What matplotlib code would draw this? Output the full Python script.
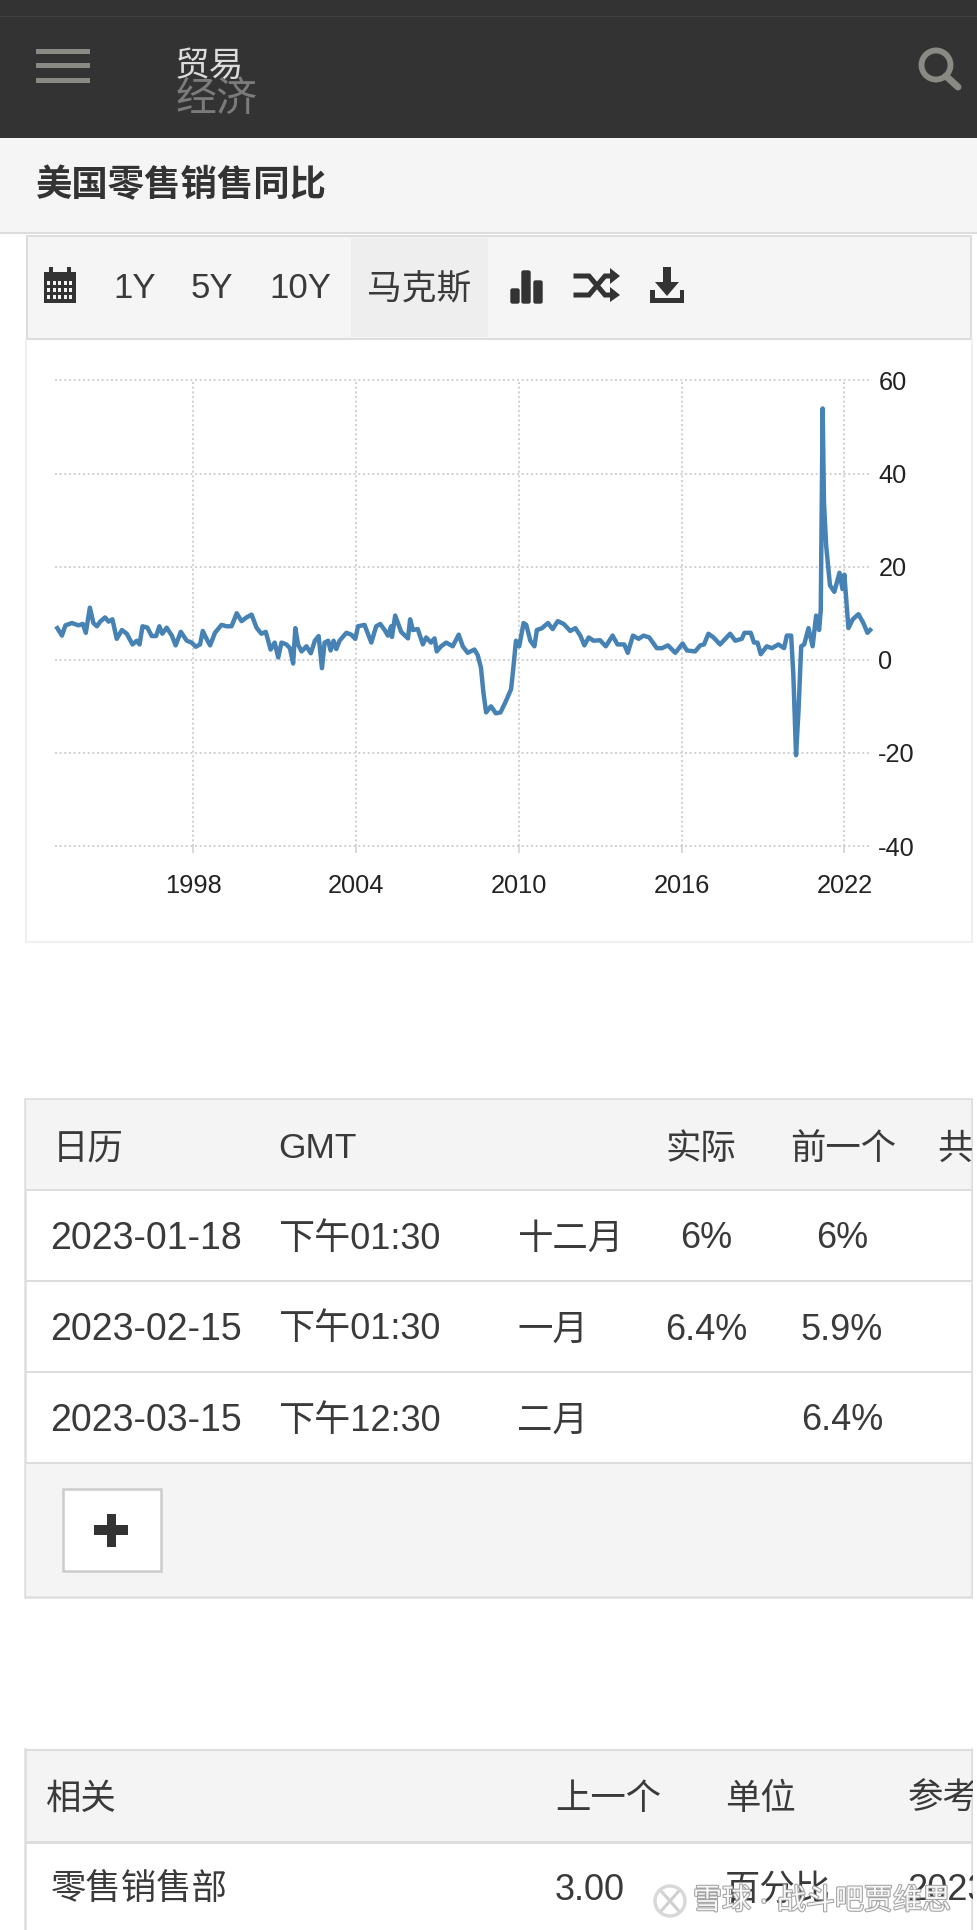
import matplotlib
matplotlib.use("Agg")
import matplotlib.pyplot as plt
from matplotlib.patches import Rectangle, Circle, Polygon, FancyBboxPatch
import matplotlib.patheffects as pe

plt.rcParams['font.family'] = ['Liberation Sans', 'Noto Sans CJK SC', 'DejaVu Sans']

# ---------- data ----------
years = [1993.0,1993.17,1993.3,1993.54,1993.78,1993.94,1994.05,1994.2,1994.33,1994.46,1994.58,1994.76,1994.89,
 1995.03,1995.19,1995.38,1995.56,1995.77,1995.93,1996.03,1996.14,1996.32,1996.48,1996.64,1996.76,1996.87,
 1997.03,1997.22,1997.36,1997.55,1997.77,1997.95,1998.1,1998.26,1998.36,1998.5,1998.63,1998.81,
 1999.05,1999.24,1999.42,1999.61,1999.79,1999.97,2000.16,2000.34,2000.52,2000.68,2000.86,
 2001.01,2001.14,2001.26,2001.44,2001.57,2001.69,2001.77,2001.87,2002.0,2002.18,2002.34,2002.49,2002.63,2002.75,2002.85,2002.98,
 2003.07,2003.18,2003.28,2003.4,2003.65,2003.83,2003.98,2004.08,2004.32,2004.57,2004.75,2004.9,
 2005.06,2005.18,2005.3,2005.33,2005.45,2005.67,2005.92,2006.0,2006.1,2006.28,2006.47,2006.59,2006.77,2006.9,2006.98,
 2007.14,2007.33,2007.57,2007.79,2007.94,2008.12,2008.37,2008.49,2008.61,2008.7,2008.8,2008.98,2009.16,
 2009.33,2009.52,2009.63,2009.72,2009.79,2009.9,2010.02,2010.18,2010.28,2010.43,2010.58,2010.67,2010.86,
 2011.08,2011.25,2011.44,2011.66,2011.9,2012.09,2012.27,2012.42,2012.58,2012.76,2013.0,2013.21,2013.46,2013.64,2013.89,
 2014.02,2014.21,2014.42,2014.6,2014.81,2015.09,2015.28,2015.5,2015.77,2016.04,2016.2,2016.5,2016.69,2016.83,2016.99,
 2017.18,2017.42,2017.79,2017.98,2018.22,2018.32,2018.55,2018.67,2018.8,2018.92,2019.14,2019.33,2019.57,2019.78,2019.88,
 2020.04,2020.12,2020.22,2020.31,2020.41,2020.52,2020.68,2020.83,2020.96,2021.07,2021.13,2021.2,2021.25,2021.33,2021.47,2021.63,2021.82,2021.93,
 2022.0,2022.15,2022.31,2022.52,2022.7,2022.85,2022.95]
retail_yoy = [6.8,5.2,7.4,7.9,7.4,7.7,5.8,11.2,7.9,7.2,8.2,9.1,8.2,
 8.7,4.5,6.4,5.6,3.3,4.1,3.3,7.2,6.9,5.1,5.1,7.2,5.6,
 6.9,5.2,3.1,6.0,4.1,3.7,2.8,3.3,6.2,4.5,3.1,5.8,
 7.5,7.2,7.2,10.0,8.3,9.1,9.7,6.9,5.6,6.0,2.2,
 3.7,0.5,3.7,3.3,2.5,-0.8,6.8,3.3,1.8,2.9,1.4,4.1,5.1,-1.8,3.7,4.1,
 2.0,4.1,2.3,4.1,5.8,5.4,4.5,7.2,7.5,3.7,7.2,7.7,
 6.4,5.2,7.2,4.9,9.5,6.0,4.6,8.7,6.4,6.6,3.3,4.8,3.7,4.6,1.8,
 2.9,3.7,2.9,5.4,2.9,1.5,2.2,1.0,-1.7,-7.0,-11.3,-10.0,-11.5,
 -11.3,-9.0,-7.5,-6.3,-2.5,4.1,2.9,7.9,7.5,4.1,2.9,6.4,6.8,
 7.9,6.6,8.3,7.7,6.2,6.8,5.2,3.1,4.8,4.1,4.2,2.9,5.2,3.3,3.3,
 1.5,5.2,4.5,5.2,4.8,2.5,2.5,3.1,1.5,3.5,2.0,1.8,3.1,3.3,5.6,
 4.8,3.3,5.6,4.1,4.5,5.8,5.8,3.7,3.7,1.2,2.9,2.5,3.3,2.5,5.2,
 5.2,-3.2,-20.5,-11.0,2.9,3.3,6.8,2.9,9.5,6.4,10.6,54.0,33.7,24.5,16.0,14.6,18.7,15.2,
 18.3,6.8,8.7,9.8,7.9,5.8,6.4]

x_ticks = [1998, 2004, 2010, 2016, 2022]
y_ticks = [60, 40, 20, 0, -20, -40]

toolbar_labels = ['1Y', '5Y', '10Y', '马克斯']
calendar_header = ['日历', 'GMT', '实际', '前一个', '共']
calendar_dates = ['2023-01-18', '2023-02-15', '2023-03-15']
calendar_times = ['下午01:30', '下午01:30', '下午12:30']
calendar_months = ['十二月', '一月', '二月']
calendar_actual = ['6%', '6.4%', '']
calendar_previous = ['6%', '5.9%', '6.4%']
related_header = ['相关', '上一个', '单位', '参考']
related_row = ['零售销售部', '3.00', '百分比', '2023']

W, H = 978, 1930
fig = plt.figure(figsize=(W/100, H/100), dpi=100, facecolor='white')
ui = fig.add_axes([0, 0, 1, 1])
ui.set_xlim(0, W); ui.set_ylim(H, 0); ui.axis('off')

DARK = '#333333'; BORDER = '#dddddd'; PANEL = '#f4f4f4'; ICON = '#8a8a84'

def rect(x0, y0, x1, y1, fc, ec='none', lw=0, z=1):
    ui.add_patch(Rectangle((x0, y0), x1-x0, y1-y0, facecolor=fc, edgecolor=ec, linewidth=lw, zorder=z))

def txt(x, y, s, size=25.5, color='#3a3a3a', ha='left', weight='normal', z=5):
    return ui.text(x, y, s, fontsize=size, color=color, ha=ha, va='center', fontweight=weight, zorder=z)

# header
rect(0, 0, W, 138, DARK)
rect(0, 15.5, W, 16.5, '#3d3f42', z=2)
for y0, y1 in [(49, 53.5), (63, 68), (78, 82.5)]:
    rect(36, y0, 90, y1, ICON, z=2)
txt(175, 66, '贸易', size=25, color='#dcdcdc', z=6)
txt(176, 100, '经济', size=29.5, color='#7b7b7b', z=5)
ui.add_patch(Circle((936, 65), 14.5, facecolor='none', edgecolor=ICON, linewidth=4.2, zorder=3))
ui.plot([946, 958], [76, 87], color=ICON, lw=5, solid_capstyle='round', zorder=3)

# title bar
rect(0, 138, W, 232, '#f5f5f5')
rect(0, 232, W, 234, BORDER)
txt(36, 187, '美国零售销售同比', size=26.2, color=DARK, weight='bold')

# toolbar
rect(27, 236, 971, 339, '#f5f5f5', ec=BORDER, lw=1.5)
rect(351, 238, 488, 337, '#eeeeee', z=2)
for cx, lab in zip([135, 212, 300, 419], toolbar_labels):
    txt(cx, 289, lab, size=25, ha='center')
# calendar icon
rect(44, 272, 76, 303, DARK, z=3)
rect(49, 267, 53, 274, DARK, z=3); rect(67, 267, 71, 274, DARK, z=3)
for r in range(3):
    for c in range(5):
        rect(47+c*5.6, 281+r*6.8, 50+c*5.6, 285+r*6.8, '#f5f5f5', z=4)
# bars icon
for x0, y0 in [(510, 288), (521, 270), (533, 280)]:
    ui.add_patch(FancyBboxPatch((x0+1, y0+1), 8, 302-y0, boxstyle='round,pad=0,rounding_size=1.5',
                                facecolor=DARK, edgecolor=DARK, linewidth=1, zorder=3))
# shuffle icon
ui.plot([576, 589, 605, 612], [276, 276, 295, 295], color=DARK, lw=3.6, zorder=3, solid_joinstyle='miter')
ui.plot([576, 589, 605, 612], [295, 295, 276, 276], color=DARK, lw=3.6, zorder=3, solid_joinstyle='miter')
ui.add_patch(Polygon([[610, 268], [620, 276], [610, 284]], fc=DARK, ec='none', zorder=3))
ui.add_patch(Polygon([[610, 287], [620, 295], [610, 302]], fc=DARK, ec='none', zorder=3))
# download icon
rect(663, 267, 671, 283, DARK, z=3)
ui.add_patch(Polygon([[655, 282], [679, 282], [667, 296]], fc=DARK, ec='none', zorder=3))
rect(650, 290, 654.5, 303, DARK, z=3); rect(679.5, 290, 684, 303, DARK, z=3); rect(650, 298, 684, 303, DARK, z=3)

# chart panel border
ui.plot([25.5, 25.5, 972, 972], [339, 941.5, 941.5, 339], color='#eeeeee', lw=1.2, zorder=1)

# chart
left, right, top, bottom = 55, 870, 380.5, 846
ax = fig.add_axes([left/W, 1-bottom/H, (right-left)/W, (bottom-top)/H])
ax.patch.set_alpha(0)
for s in ax.spines.values():
    s.set_visible(False)
ax.set_xlim(1992.915, 2022.945)
ax.set_ylim(-40, 60)
ax.set_xticks(x_ticks); ax.set_xticklabels([str(v) for v in x_ticks])
ax.yaxis.tick_right()
ax.set_yticks(y_ticks); ax.set_yticklabels([str(v) for v in y_ticks])
ax.tick_params(axis='x', length=5, width=1.2, color='#d4d4d4', pad=15.5, labelsize=18.3, labelcolor='#222222')
ax.tick_params(axis='y', length=0, pad=6, labelsize=18.3, labelcolor='#222222')
ax.grid(True, color='#d0d0d0', linestyle=(0, (1, 1.4)), linewidth=1.4, clip_on=False)
ax.set_axisbelow(True)
ax.plot(years, retail_yoy, color='#4682B4', lw=3.2, solid_joinstyle='round', clip_on=False, zorder=3)

# calendar table
rect(25, 1099, 972, 1597, 'white', ec=BORDER, lw=1.8)
rect(26, 1100, 971, 1190, PANEL, z=1.5)
rect(26, 1463, 971, 1596, PANEL, z=1.5)
for y in [1190, 1281, 1372, 1463]:
    rect(25, y-1, 972, y+1.2, BORDER, z=2)
for x, lab in zip([53, 278, 665, 790, 937], calendar_header):
    txt(x, 1149, lab)
for i, y in enumerate([1239, 1330, 1421]):
    txt(50, y, calendar_dates[i], size=27)
    txt(278, y, calendar_times[i], size=26)
    txt(517, y, calendar_months[i])
    txt(706, y, calendar_actual[i], size=26, ha='center')
    txt(842, y, calendar_previous[i], size=26, ha='center')
rect(63, 1489, 161, 1571, 'white', ec='#cccccc', lw=1.8, z=3)
rect(94, 1525, 128, 1535, DARK, z=4)
rect(106.5, 1514, 115.5, 1547, DARK, z=4)

# related table
ui.plot([25, 25], [1930, 1749], color=BORDER, lw=1.8, zorder=2)
ui.plot([972, 972], [1930, 1749], color=BORDER, lw=1.8, zorder=2)
rect(25, 1749, 972, 1842, PANEL, z=1.5)
rect(25, 1749, 972, 1751, BORDER, z=2)
rect(25, 1841, 972, 1843.5, BORDER, z=2)
for x, lab in zip([46, 555, 725, 908], related_header):
    txt(x, 1799, lab)
for x, lab in zip([51, 555, 725, 907], related_row):
    txt(x, 1890, lab, size=26 if lab[0].isdigit() else 25.5)

# clip overflowing table text at the table's right edge
rect(973, 1090, W, H, 'white', z=8)

# watermark
halo = [pe.withStroke(linewidth=1.5, foreground='#9a9a9a')]
ui.text(693, 1901, '雪球 · 战斗吧贾维思', fontsize=20.9, color='white', alpha=0.92, ha='left', va='center',
        zorder=9, path_effects=halo)
ui.add_patch(Circle((670, 1901), 15, facecolor='none', edgecolor='#d8d8d8', linewidth=2.4, zorder=9))
ui.plot([662, 678], [1892, 1910], color='#d0d0d0', lw=2.2, zorder=9)
ui.plot([678, 662], [1892, 1910], color='#d0d0d0', lw=2.2, zorder=9)

fig.savefig('out.png', dpi=100)
